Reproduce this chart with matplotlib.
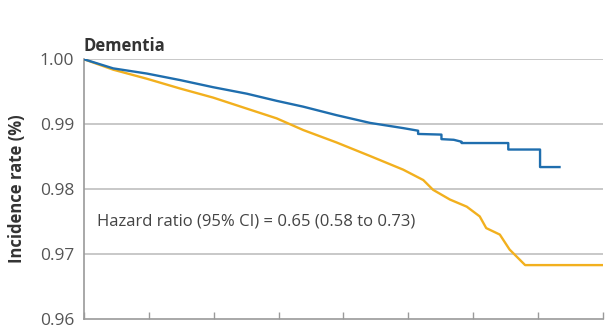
import matplotlib
matplotlib.use("Agg")
import matplotlib.pyplot as plt

# Kaplan-Meier style curves (years, proportion free of dementia)
blue_t = [0, 0.45, 0.97, 1.48, 1.99, 2.51, 2.97, 3.38, 3.89, 4.41, 4.92, 5.15, 5.15,
          5.51, 5.51, 5.70, 5.82, 5.82, 6.54, 6.54, 7.03, 7.03, 7.33]
blue_v = [1.0000, 0.9986, 0.9978, 0.9968, 0.9957, 0.9947, 0.9936, 0.9927, 0.9914,
          0.9902, 0.9894, 0.9890, 0.9885, 0.9884, 0.9877, 0.9876, 0.9873, 0.9871,
          0.9871, 0.9861, 0.9861, 0.9834, 0.9834]

orange_t = [0, 0.45, 0.97, 1.48, 1.99, 2.51, 2.97, 3.38, 3.89, 4.41, 4.92, 5.23, 5.38,
            5.64, 5.90, 6.10, 6.20, 6.41, 6.56, 6.72, 6.80, 8.00]
orange_v = [1.0000, 0.9984, 0.9970, 0.9955, 0.9941, 0.9924, 0.9909, 0.9891, 0.9872,
            0.9851, 0.9830, 0.9814, 0.9799, 0.9784, 0.9773, 0.9758, 0.9740, 0.9730,
            0.9707, 0.9691, 0.9683, 0.9683]

y_ticks = [0.96, 0.97, 0.98, 0.99, 1.00]
x_ticks = list(range(0, 9))

plt.rcParams['font.family'] = ['Open Sans', 'DejaVu Sans']

fig = plt.figure(figsize=(6.10, 3.27), dpi=100)
ax = fig.add_axes([0.1377, 0.0245, 0.8508, 0.7942])

grid_c = '#c4c4c4'
for v in y_ticks[1:]:
    ax.axhline(v, color=grid_c, lw=1.3, zorder=1)

ax.plot(orange_t, orange_v, color='#f2b01e', lw=1.7, zorder=3)
ax.plot(blue_t, blue_v, color='#1f6eae', lw=1.7, zorder=4)

ax.set_xlim(0, 8)
ax.set_ylim(0.96, 1.00)
ax.set_yticks(y_ticks)
ax.set_yticklabels(['%.2f' % v for v in y_ticks])
ax.set_xticks(x_ticks)
ax.set_xticklabels([])

for s in ['top', 'right']:
    ax.spines[s].set_visible(False)
for s in ['left', 'bottom']:
    ax.spines[s].set_color('#9a9a9a')
    ax.spines[s].set_linewidth(1.2)

ax.tick_params(axis='y', length=0, pad=7, labelsize=12.5, labelcolor='#555555')
ax.tick_params(axis='x', direction='in', length=5, color='#9a9a9a', width=1)

ax.set_ylabel('Incidence rate (%)', fontsize=12, fontweight='bold',
              color='#333333', labelpad=10)
ax.text(0, 1.0007, 'Dementia', fontsize=12, fontweight='bold', color='#333333',
        ha='left', va='bottom')
ax.text(0.2, 0.9750, 'Hazard ratio (95% CI) = 0.65 (0.58 to 0.73)', fontsize=12,
        color='#444444', ha='left', va='center')

fig.savefig('out.png', dpi=100)
